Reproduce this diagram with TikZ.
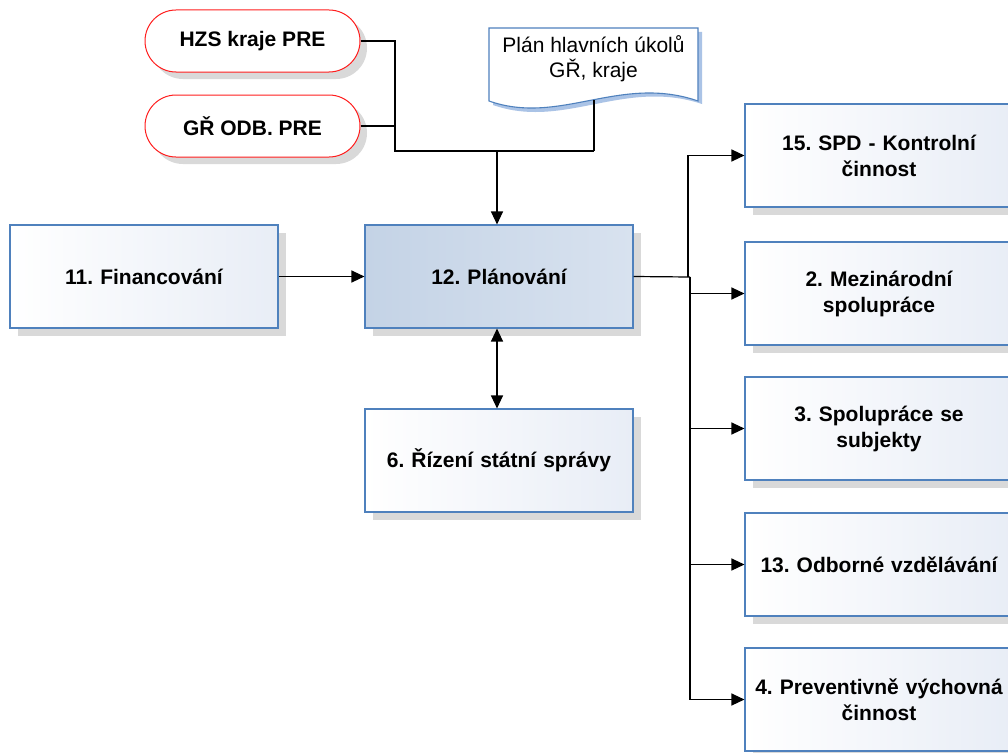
\documentclass[tikz,border=0pt]{standalone}
\usepackage{fontspec}
\setmainfont{Liberation Sans}
\frenchspacing
\usetikzlibrary{arrows.meta,shadows}
\definecolor{bord}{RGB}{79,129,189}
\definecolor{shad}{RGB}{217,217,217}
\definecolor{plfillL}{RGB}{196,211,230}
\definecolor{plfillR}{RGB}{216,226,239}
\definecolor{boxR}{RGB}{232,237,246}
\definecolor{docshad}{RGB}{170,195,230}
\definecolor{pillred}{RGB}{255,30,30}
\tikzset{
  procbox/.style={draw=bord, line width=1.1pt, left color=white, right color=boxR,
    minimum width=268pt, minimum height=103pt, inner sep=2pt, align=center,
    text width=262pt, font=\fontsize{21}{26}\selectfont\bfseries,
    drop shadow={shadow xshift=8pt, shadow yshift=-8pt, fill=shad, opacity=1}},
  mainbox/.style={procbox, left color=plfillL, right color=plfillR},
  pill/.style={draw=pillred, line width=1pt, fill=white, rounded corners=31pt,
    minimum width=215pt, minimum height=62pt, inner sep=2pt,
    font=\fontsize{21}{26}\selectfont\bfseries,
    drop shadow={shadow xshift=7pt, shadow yshift=-7pt, fill=shad, opacity=1}},
  conn/.style={draw=black, line width=1.2pt},
  arr/.style={conn, -{Triangle[length=13pt,width=12pt]}},
  darr/.style={conn, {Triangle[length=13pt,width=12pt]}-{Triangle[length=13pt,width=12pt]}},
  doctext/.style={align=center, font=\fontsize{21}{25}\selectfont}
}
\begin{document}
\begin{tikzpicture}[x=1pt,y=-1pt]
\clip (0,0) rectangle (1008,752);
\fill[white] (0,0) rectangle (1008,752);

% pills
\node[pill] (hzs) at (252.5,41) {HZS kraje PRE};
\node[pill] (gr) at (252.5,126) {GŘ ODB. PRE};

% document shape
\fill[docshad] (493,32) -- (702,32) -- (702,104) .. controls (624,78) and (564,130) .. (493,105) -- cycle;
\draw[draw=bord, line width=1.1pt, fill=white] (489,28) -- (698,28) -- (698,101) .. controls (620,74) and (560,126) .. (489,101) -- cycle;
\node[doctext] (doc) at (593.5,59) {Plán hlavních úkolů\\GŘ, kraje};
\coordinate (docb) at (594,100);

% main boxes
\node[procbox] (fin) at (144,276.5) {11. Financování};
\node[mainbox] (plan) at (499,276.5) {12. Plánování};
\node[procbox] (riz) at (499,460.5) {6. Řízení státní správy};

% right boxes
\node[procbox] (s15) at (879,155.5) {15. SPD - Kontrolní\\činnost};
\node[procbox] (s2) at (879,293.5) {2. Mezinárodní\\spolupráce};
\node[procbox] (s3) at (879,428.5) {3. Spolupráce se\\subjekty};
\node[procbox] (s13) at (879,564.5) {13. Odborné vzdělávání};
\node[procbox] (s4) at (879,699.5) {4. Preventivně výchovná\\činnost};

% junctions
\coordinate (j1) at (395,151);
\coordinate (j2) at (594,151);
\coordinate (jm) at (497,151);
\coordinate (tu) at (688,277);
\coordinate (td) at (690,277);

\draw[conn] (hzs.east) -| (j1) -- (j2);
\draw[conn] (gr.east) -- (gr.east -| j1);
\draw[conn] (docb) -- (j2);
\draw[arr] (jm) -- (jm |- plan.north);

\draw[arr] (fin.east) -- (plan.west);
\draw[darr] (plan.south -| jm) -- (riz.north -| jm);

\draw[conn] (plan.east) -- (td);
\draw[arr] (tu) |- (s15.west);
\draw[arr] (td) |- (s2.west);
\draw[arr] (td) |- (s3.west);
\draw[arr] (td) |- (s13.west);
\draw[arr] (td) |- (s4.west);
\end{tikzpicture}
\end{document}
